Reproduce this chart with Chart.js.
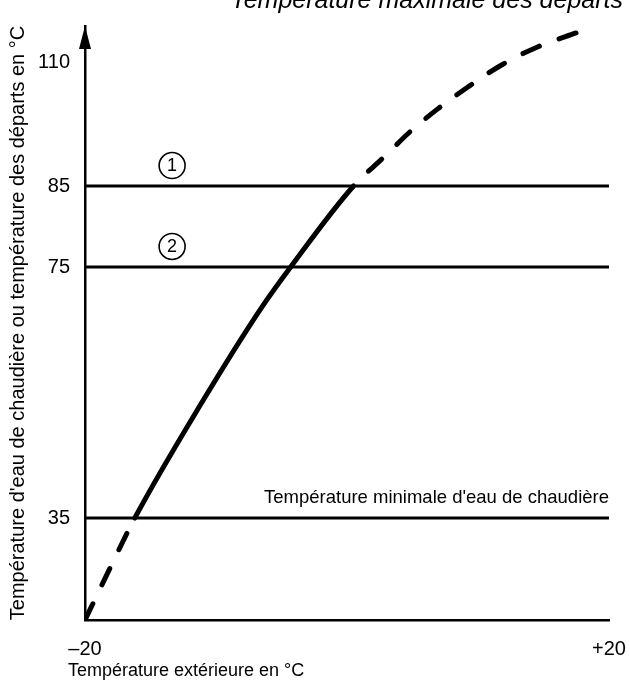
<!DOCTYPE html>
<html>
  <head>
    <meta charset="utf-8">
    <script src="https://cdn.jsdelivr.net/npm/chart.js"></script>
    <style>
      html, body { margin: 0; padding: 0; background: #fff; }
    </style>
  </head>
  <body>
    <canvas id="curve-chart" width="630" height="684"></canvas>
    <script>
      // heating curve: outdoor temperature -> flow temperature (°C)
      var outdoorTemps = [-20, -19.3, -17.9, -16.2, -11.2, -6.6, -4.3, 0.5, 2.8, 4.8, 6.9, 9.2, 11.8, 14.5, 17.6];
      var flowTemps    = [20, 22.8, 28.4, 35, 53.0, 68.3, 75, 85, 90.8, 95.9, 100.5, 104.9, 109.4, 113, 116];
      // boiler water limits: (1) 85, (2) 75, minimum 35
      var limitTemps = [85, 75, 35];
      var yTicks = [35, 75, 85, 110];
      var xTicks = [-20, 20];

      var FONT = '"Liberation Sans", Arial, sans-serif';
      Chart.defaults.font.family = FONT;
      Chart.defaults.color = '#111';

      // the drawing is schematic: the temperature axis is not evenly spaced,
      // so the y scale maps values to the axis piece by piece
      var yStops = [[20, 0], [35, 0.1717], [75, 0.5943], [85, 0.7306], [110, 0.9394], [117.3, 1]];

      class StretchScale extends Chart.LinearScale {
        getPixelForValue(value) {
          if (value === null || value === undefined) return NaN;
          var s = yStops;
          for (var i = 1; i < s.length; i++) {
            if (value <= s[i][0] || i === s.length - 1) {
              var a = s[i - 1], b = s[i];
              return this.getPixelForDecimal(a[1] + (value - a[0]) / (b[0] - a[0]) * (b[1] - a[1]));
            }
          }
        }
        getValueForPixel(pixel) {
          var d = this.getDecimalForPixel(pixel);
          var s = yStops;
          for (var i = 1; i < s.length; i++) {
            if (d <= s[i][1] || i === s.length - 1) {
              var a = s[i - 1], b = s[i];
              return a[0] + (d - a[1]) / (b[1] - a[1]) * (b[0] - a[0]);
            }
          }
        }
      }
      StretchScale.id = 'stretch';
      StretchScale.defaults = Chart.LinearScale.defaults;
      Chart.register(StretchScale);

      var DASH = [18, 21];

      var datasets = limitTemps.map(function(t) {
        return {
          data: [{x: xTicks[0], y: t}, {x: xTicks[1], y: t}],
          borderColor: '#000',
          borderWidth: 3,
          pointRadius: 0,
          showLine: true
        };
      });
      datasets.push({
        data: outdoorTemps.map(function(x, i) { return {x: x, y: flowTemps[i]}; }),
        borderColor: '#000',
        borderWidth: 5,
        borderCapStyle: 'round',
        cubicInterpolationMode: 'monotone',
        pointRadius: 0,
        showLine: true,
        segment: {
          borderDash: function(ctx) {
            return (ctx.p1.parsed.y <= 35 || ctx.p0.parsed.y >= 85) ? DASH : undefined;
          },
          borderDashOffset: function(ctx) {
            return ctx.p0.parsed.y >= 85 ? 18 : 0;
          }
        }
      });

      var notes = {
        id: 'notes',
        afterDraw: function(chart) {
          var c = chart.ctx, x = chart.scales.x, y = chart.scales.y, area = chart.chartArea;
          c.save();
          c.fillStyle = '#000';
          c.strokeStyle = '#000';

          // arrow head on the temperature axis
          c.beginPath();
          c.moveTo(area.left, area.top);
          c.lineTo(area.left - 6, area.top + 23);
          c.lineTo(area.left + 6, area.top + 23);
          c.closePath();
          c.fill();

          // top caption, partly cut by the page edge
          c.font = 'italic 25px ' + FONT;
          c.textAlign = 'right';
          c.textBaseline = 'alphabetic';
          c.fillText('Température maximale des départs', chart.width - 7, 8);

          // minimum boiler water label
          c.font = '18.5px ' + FONT;
          c.textAlign = 'right';
          c.fillText("Température minimale d'eau de chaudière", area.right, y.getPixelForValue(limitTemps[2]) - 15);

          // x axis title
          c.textAlign = 'left';
          c.textBaseline = 'middle';
          c.font = '18px ' + FONT;
          c.fillText('Température extérieure en °C', 68, 671);

          // circled numbers
          c.font = '18px ' + FONT;
          c.textAlign = 'center';
          c.lineWidth = 1.6;
          [limitTemps[0], limitTemps[1]].forEach(function(t, i) {
            var cx = x.getPixelForValue(-13.35), cy = y.getPixelForValue(t) - 20.5;
            c.beginPath();
            c.arc(cx, cy, 13, 0, Math.PI * 2);
            c.stroke();
            c.fillText(String(i + 1), cx, cy + 1);
          });
          c.restore();
        }
      };

      new Chart(document.getElementById('curve-chart'), {
        type: 'scatter',
        data: { datasets: datasets },
        options: {
          responsive: false,
          animation: false,
          layout: { padding: { top: 26, right: 21, left: 0, bottom: 0 } },
          plugins: { legend: { display: false }, tooltip: { enabled: false } },
          scales: {
            x: {
              type: 'linear',
              min: xTicks[0],
              max: xTicks[1],
              grid: { display: false, drawTicks: false },
              border: { display: true, color: '#000', width: 2.5 },
              afterBuildTicks: function(scale) {
                scale.ticks = xTicks.map(function(v) { return {value: v}; });
              },
              afterFit: function(scale) {
                scale.height = 64;
                scale.paddingLeft = 0;
                scale.paddingRight = 0;
              },
              ticks: {
                padding: 17,
                maxRotation: 0,
                font: { size: 20 },
                color: '#000',
                callback: function(v) { return v > 0 ? '+' + v : '–' + Math.abs(v); }
              }
            },
            y: {
              type: 'stretch',
              min: yStops[0][0],
              max: yStops[yStops.length - 1][0],
              grid: { display: false, drawTicks: false },
              border: { display: true, color: '#000', width: 2.5 },
              afterBuildTicks: function(scale) {
                scale.ticks = yTicks.map(function(v) { return {value: v}; });
              },
              afterFit: function(scale) {
                scale.width = 85;
                scale.paddingTop = 0;
                scale.paddingBottom = 0;
              },
              ticks: {
                padding: 15,
                font: { size: 20 },
                color: '#000'
              },
              title: {
                display: true,
                text: "Température d'eau de chaudière ou température des départs en °C",
                font: { size: 20 },
                color: '#000',
                padding: { top: 6, bottom: 0 }
              }
            }
          }
        },
        plugins: [notes]
      });
    </script>
  </body>
</html>
